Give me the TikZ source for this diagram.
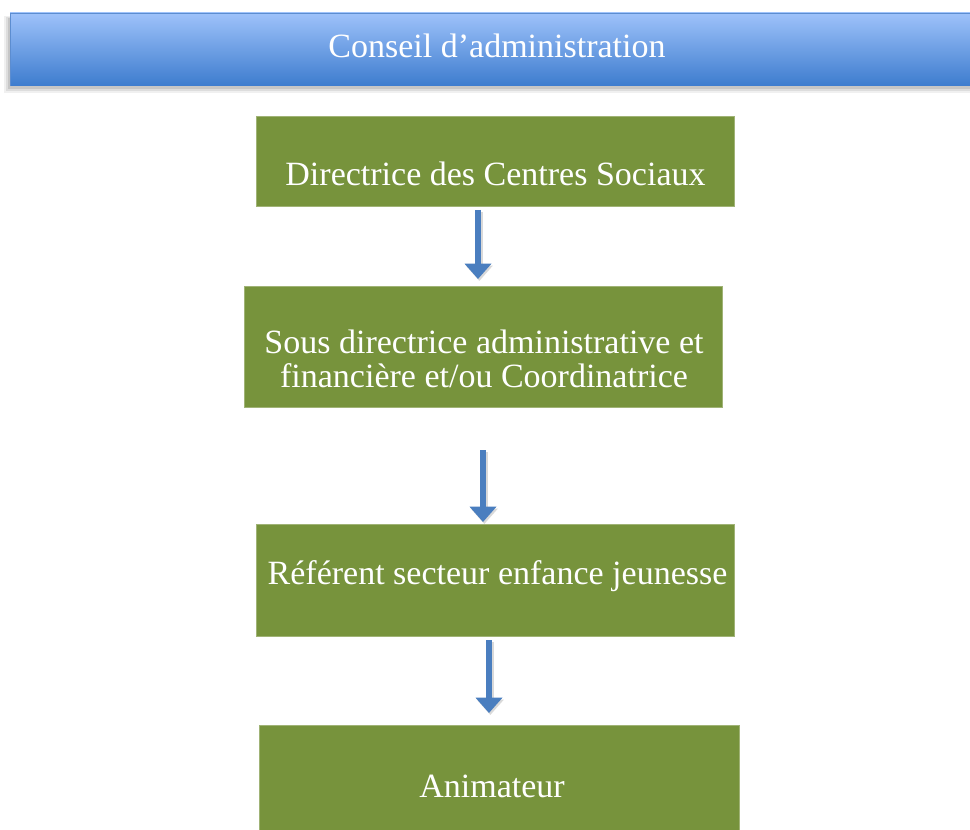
\documentclass[tikz,border=0pt]{standalone}
\usepackage{fontspec}
\setmainfont{Liberation Serif}
\usetikzlibrary{arrows.meta,calc}
\definecolor{boxgreen}{HTML}{77933C}
\definecolor{arrblue}{HTML}{4A7EBF}
\definecolor{toplight}{HTML}{9EC2FA}
\definecolor{topdark}{HTML}{3D7CCE}
\definecolor{topedge}{HTML}{5C8DD0}
\tikzset{
  txt/.style={text=white, font=\fontsize{25.5}{28}\selectfont},
  greenbox/.style={fill=boxgreen, draw=boxgreen!70!white, line width=0.6pt, inner sep=0pt, anchor=north west},
  flowarrow/.style={draw=arrblue, line width=5.2pt, -{Triangle[width=19.5pt,length=11.5pt]},
    preaction={draw=black!15, line width=5.2pt, transform canvas={xshift=1pt,yshift=-1.5pt}, -{Triangle[width=19.5pt,length=11.5pt]}}}
}
\begin{document}
\begin{tikzpicture}[x=0.75pt,y=-0.75pt]
\useasboundingbox (0,0) rectangle (970,830);
% top bar shadow (soft)
\fill[black, opacity=0.06] (4,16) rectangle (975,93);
\fill[black, opacity=0.08] (6,17) rectangle (975,91);
\fill[black, opacity=0.10] (8,18) rectangle (975,89);
% top bar
\shade[top color=toplight, bottom color=topdark] (10,13) rectangle (975,86);
\draw[topedge, line width=1.2pt] (975,13.5) -- (10.5,13.5) -- (10.5,86);
\node[txt] (top) at (497,46) {Conseil d’administration};
% boxes
\node[greenbox, minimum width=358.5pt, minimum height=67.5pt] (b1) at (256,116) {};
\node[txt] (t1) at (495.5,174) {Directrice des Centres Sociaux};
\node[greenbox, minimum width=358.5pt, minimum height=90.75pt] (b2) at (244,286) {};
\node[txt, align=center, font=\fontsize{25.5}{25}\selectfont] (t2) at (484,359) {Sous directrice administrative et\\financière et/ou Coordinatrice};
\node[greenbox, minimum width=358.5pt, minimum height=84pt] (b3) at (256,524) {};
\node[txt] (t3) at (497.5,576) {Référent secteur enfance jeunesse};
\node[greenbox, minimum width=360pt, minimum height=78.75pt] (b4) at (259,725) {};
\node[txt] (t4) at (492,786) {Animateur};
% arrows
\coordinate (a1s) at (478,210); \coordinate (a1e) at (478,279);
\coordinate (a2s) at (483,450); \coordinate (a2e) at (483,522);
\coordinate (a3s) at (489,640); \coordinate (a3e) at (489,713);
\draw[flowarrow] (a1s) -- (a1e);
\draw[flowarrow] (a2s) -- (a2e);
\draw[flowarrow] (a3s) -- (a3e);
\end{tikzpicture}
\end{document}
